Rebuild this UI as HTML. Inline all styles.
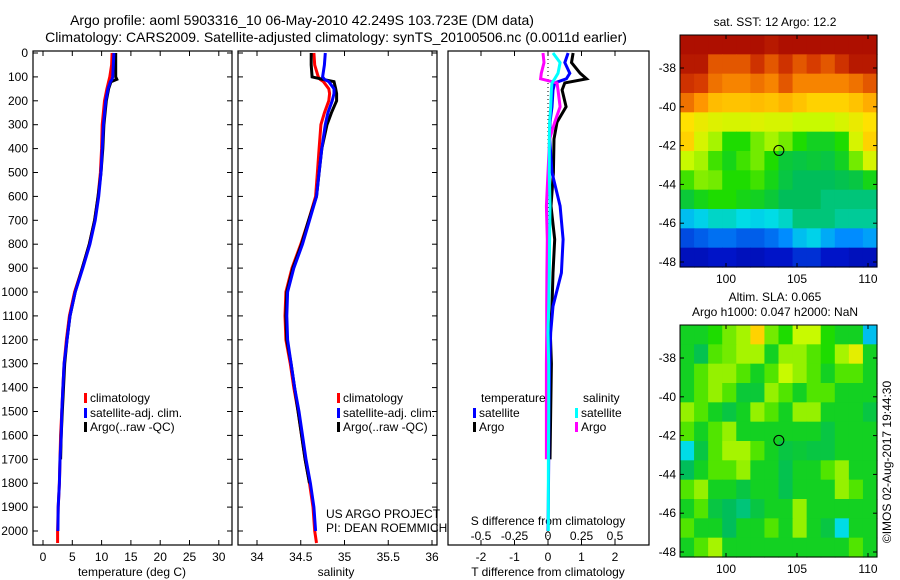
<!DOCTYPE html>
<html><head><meta charset="utf-8"><style>
body{margin:0;background:#fff}
svg{display:block;font-family:"Liberation Sans",sans-serif}
text{font-size:12px;fill:#000}
</style></head><body>
<svg id="s" width="900" height="580" viewBox="0 0 900 580">
<text x="302" y="25" text-anchor="middle" style="font-size:14px">Argo profile: aoml 5903316_10 06-May-2010 42.249S 103.723E (DM data)</text>
<text x="336" y="42" text-anchor="middle" style="font-size:14px">Climatology: CARS2009. Satellite-adjusted climatology: synTS_20100506.nc (0.0011d earlier)</text>
<text x="775" y="26" text-anchor="middle">sat. SST: 12 Argo: 12.2</text>
<text x="775" y="301" text-anchor="middle">Altim. SLA: 0.065</text>
<text x="775" y="316" text-anchor="middle">Argo h1000: 0.047 h2000: NaN</text>
<text transform="translate(891,462) rotate(-90)" text-anchor="middle">©IMOS 02-Aug-2017 19:44:30</text>
<text x="132" y="576" text-anchor="middle">temperature (deg C)</text>
<text x="336" y="576" text-anchor="middle">salinity</text>
<text x="548" y="576" text-anchor="middle">T difference from climatology</text>
<text x="548" y="525" text-anchor="middle">S difference from climatology</text>
<text x="326" y="518">US ARGO PROJECT</text>
<text x="326" y="532">PI: DEAN ROEMMICH</text>
</svg>
<script>
// ---------- data ----------
const depthTicks=[0,100,200,300,400,500,600,700,800,900,1000,1100,1200,1300,1400,1500,1600,1700,1800,1900,2000];
const tempTicks=[0,5,10,15,20,25,30];
const salTicks=[34,34.5,35,35.5,36];
const tdiffTicks=[-2,-1,0,1,2];
const sdiffTicks=[-0.5,-0.25,0,0.25,0.5];
const sdiffTickLabels=["-0.5","-0.25","0","0.25","0.5"];

const tempClimDepth=[0,50,100,110,120,150,200,300,400,500,600,700,800,900,1000,1100,1200,1300,1400,1500,1600,1700,1800,1900,2000,2050];
const tempClim=[11.8,11.7,11.4,11.3,11.2,10.9,10.5,10.1,10.0,9.8,9.4,8.8,7.9,6.7,5.4,4.5,4.0,3.6,3.4,3.2,3.0,2.9,2.8,2.6,2.5,2.5];
const tempSatDepth=[0,50,100,110,120,150,200,300,400,500,600,700,800,900,1000,1100,1200,1300,1400,1500,1600,1700,1800,1900,2000];
const tempSat=[12.1,12.0,11.9,11.8,11.5,11.1,10.7,10.3,10.1,9.9,9.5,8.9,8.0,6.8,5.5,4.6,4.1,3.6,3.4,3.2,3.1,2.9,2.8,2.6,2.55];
const tempArgoDepth=[0,50,100,110,120,150,200,300,400,500,600,700,800,900,1000,1100,1200,1300,1400,1500,1600,1700];
const tempArgo=[12.4,12.4,12.4,12.6,11.6,11.2,10.8,10.4,10.2,9.9,9.4,8.8,7.9,6.7,5.5,4.6,4.1,3.7,3.5,3.3,3.1,3.0];

const salClimDepth=[0,50,100,110,120,150,170,200,250,300,400,500,600,700,800,900,1000,1100,1200,1300,1400,1500,1600,1700,1800,1900,2000,2050];
const salClim=[34.65,34.66,34.70,34.72,34.76,34.82,34.83,34.82,34.77,34.73,34.71,34.69,34.67,34.59,34.50,34.40,34.33,34.32,34.33,34.38,34.42,34.47,34.51,34.55,34.60,34.64,34.66,34.68];
const salSatDepth=[0,50,100,110,120,150,170,200,250,300,400,500,600,700,800,900,1000,1100,1200,1300,1400,1500,1600,1700,1800,1900,2000];
const salSat=[34.78,34.77,34.75,34.77,34.82,34.88,34.88,34.86,34.81,34.78,34.74,34.71,34.68,34.60,34.52,34.42,34.35,34.34,34.35,34.39,34.43,34.48,34.52,34.56,34.61,34.65,34.67];
const salArgoDepth=[0,50,100,110,120,150,170,200,250,300,400,500,600,700,800,900,1000,1100,1200,1300,1400,1500,1600,1700,1800];
const salArgo=[34.62,34.62,34.63,34.75,34.88,34.90,34.91,34.91,34.85,34.80,34.74,34.71,34.68,34.59,34.51,34.41,34.34,34.33,34.34,34.39,34.43,34.47,34.51,34.55,34.60];

const diffDepth=[0,40,85,108,125,155,225,290,360,500,640,780,920,1060,1170,1300,1500,1700,1900,2000];
const tdiffArgo=[0.75,0.7,0.96,1.15,0.5,0.42,0.54,0.27,0.18,0.16,0.09,0.2,0.15,0.12,0.07,0.1,0.08,0.06];
const tdiffSat=[0.6,0.5,0.65,0.55,0.2,0.15,0.12,0.06,0.05,0.12,0.36,0.45,0.4,0.15,0.08,0.05,0.03,0.02,0.01,0.0];
const sdiffArgo=[-0.037,-0.03,-0.05,-0.055,0.067,0.075,0.09,0.05,0.012,0.0,-0.012,-0.005,-0.008,-0.01,-0.01,-0.012,-0.012,-0.012];
const sdiffSat=[0.037,0.09,0.075,0.05,0.03,0.025,0.02,0.012,0.01,0.01,0.015,0.012,0.01,0.005,0.0,0.005,0.005,0.003,0.002,0.002];

const sstGrid=[
[0.97,0.97,0.97,0.97,0.97,0.97,0.95,0.97,0.97,0.97,0.97,0.97,0.97,0.97],
[0.95,0.95,0.85,0.85,0.85,0.9,0.85,0.9,0.85,0.88,0.85,0.9,0.95,0.95],
[0.9,0.88,0.82,0.8,0.8,0.82,0.8,0.85,0.8,0.8,0.8,0.8,0.82,0.85],
[0.82,0.78,0.73,0.72,0.72,0.73,0.72,0.74,0.72,0.7,0.7,0.7,0.72,0.75],
[0.68,0.65,0.63,0.62,0.62,0.63,0.62,0.62,0.6,0.6,0.6,0.62,0.65,0.68],
[0.7,0.62,0.58,0.5,0.5,0.55,0.58,0.55,0.5,0.47,0.47,0.5,0.62,0.7],
[0.6,0.58,0.52,0.48,0.52,0.55,0.5,0.45,0.44,0.45,0.44,0.47,0.55,0.62],
[0.52,0.56,0.55,0.5,0.5,0.52,0.48,0.44,0.42,0.42,0.42,0.43,0.44,0.48],
[0.45,0.48,0.5,0.5,0.48,0.47,0.45,0.42,0.42,0.42,0.4,0.4,0.4,0.4],
[0.3,0.32,0.35,0.35,0.33,0.32,0.33,0.35,0.4,0.4,0.4,0.38,0.38,0.38],
[0.18,0.2,0.22,0.22,0.2,0.2,0.22,0.25,0.3,0.32,0.28,0.25,0.25,0.27],
[0.1,0.1,0.12,0.12,0.1,0.1,0.12,0.12,0.15,0.15,0.12,0.12,0.1,0.1]];
const slaGrid=[
[0.47,0.47,0.5,0.55,0.58,0.7,0.55,0.5,0.6,0.6,0.5,0.47,0.47,0.3],
[0.47,0.43,0.53,0.55,0.58,0.58,0.47,0.57,0.57,0.53,0.5,0.58,0.64,0.47],
[0.47,0.53,0.57,0.57,0.53,0.47,0.53,0.6,0.57,0.53,0.47,0.53,0.53,0.47],
[0.47,0.53,0.57,0.53,0.45,0.45,0.57,0.53,0.47,0.53,0.53,0.47,0.47,0.47],
[0.57,0.53,0.47,0.44,0.47,0.57,0.53,0.47,0.57,0.57,0.47,0.47,0.47,0.44],
[0.53,0.47,0.53,0.57,0.47,0.47,0.47,0.47,0.47,0.47,0.44,0.47,0.47,0.47],
[0.33,0.44,0.53,0.58,0.58,0.53,0.47,0.44,0.45,0.44,0.44,0.47,0.47,0.47],
[0.42,0.47,0.53,0.53,0.57,0.47,0.47,0.43,0.47,0.47,0.53,0.57,0.47,0.47],
[0.53,0.57,0.47,0.47,0.44,0.47,0.47,0.43,0.47,0.47,0.47,0.57,0.53,0.47],
[0.47,0.53,0.44,0.42,0.4,0.44,0.47,0.47,0.57,0.47,0.47,0.47,0.47,0.47],
[0.53,0.47,0.47,0.42,0.47,0.47,0.53,0.47,0.57,0.47,0.44,0.33,0.47,0.47],
[0.47,0.53,0.58,0.47,0.47,0.47,0.47,0.47,0.47,0.47,0.47,0.47,0.53,0.47]];
const lonTicks=[100,105,110];
const latTicks=[-38,-40,-42,-44,-46,-48];
const argoLon=103.723, argoLat=-42.249;

// ---------- helpers ----------
const NS="http://www.w3.org/2000/svg", S=document.getElementById('s');
function mk(tag,a,parent){const e=document.createElementNS(NS,tag);for(const k in a)e.setAttribute(k,a[k]);(parent||S).appendChild(e);return e;}
const yD=d=>53+d*0.239;
const PB=545;
function lin(d0,r0,d1,r1){return v=>r0+(v-d0)*(r1-r0)/(d1-d0);}
function line(depths,vals,fx,color,name,w){
  let pts=[];for(let i=0;i<depths.length&&i<vals.length;i++)pts.push(fx(vals[i]).toFixed(1)+','+yD(depths[i]).toFixed(1));
  const p=mk('polyline',{points:pts.join(' '),fill:'none',stroke:color,'stroke-width':w||3});
  
  
}
function frame(x0,x1,name){
  const r=mk('rect',{x:x0,y:51,width:x1-x0,height:PB-51,fill:'none',stroke:'#000','stroke-width':1.2});
  
  
}
function xTicks(ticks,fx,labels,y,top,name){
  ticks.forEach((t,i)=>{
    const x=fx(t);
    mk('line',{x1:x,x2:x,y1:PB,y2:PB-5,stroke:'#000'});
    if(top)mk('line',{x1:x,x2:x,y1:51,y2:56,stroke:'#000'});
    const tx=mk('text',{x:x,y:y,'text-anchor':'middle'});tx.textContent=labels?labels[i]:t;
    
    
  });
}
function yTicks(x0,x1){
  depthTicks.forEach(d=>{const y=yD(d);
    mk('line',{x1:x0,x2:x0+5,y1:y,y2:y,stroke:'#000'});
    mk('line',{x1:x1,x2:x1-5,y1:y,y2:y,stroke:'#000'});});
}
function legend(x,y,color,label,name){
  mk('rect',{x:x,y:y-9,width:3,height:10,fill:color});
  const t=mk('text',{x:x+6,y:y});t.textContent=label;
  
  
}

depthTicks.forEach(d=>{const t=mk('text',{x:28,y:yD(d)+4,'text-anchor':'end'});t.textContent=d;
  
  });

// ---------- panel 1 temperature ----------
const fT=lin(0,43,5,72.3);
frame(33,232,'temperature-panel');yTicks(33,232);
xTicks(tempTicks,fT,null,561,true,'temperature-tick-label');
line(tempClimDepth,tempClim,fT,'#f00','temp-climatology-line');
line(tempArgoDepth,tempArgo,fT,'#000','temp-argo-line');
line(tempSatDepth,tempSat,fT,'#00f','temp-satellite-line');
legend(84,402,'#f00','climatology','legend-climatology');
legend(84,417,'#00f','satellite-adj. clim.','legend-satellite');
legend(84,431,'#000','Argo(..raw -QC)','legend-argo');

// ---------- panel 2 salinity ----------
const fS=lin(34,257,35,344.5);
frame(238,437,'salinity-panel');yTicks(238,437);
xTicks(salTicks,fS,null,561,true,'salinity-tick-label');
line(salClimDepth,salClim,fS,'#f00','sal-climatology-line');
line(salArgoDepth,salArgo,fS,'#000','sal-argo-line');
line(salSatDepth,salSat,fS,'#00f','sal-satellite-line');
legend(337,402,'#f00','climatology','legend-climatology-2');
legend(337,417,'#00f','satellite-adj. clim.','legend-satellite-2');
legend(337,431,'#000','Argo(..raw -QC)','legend-argo-2');

// ---------- panel 3 differences ----------
const fD=lin(0,548,1,581.5), fSD=v=>fD(v*4);
frame(448,649,'difference-panel');
mk('line',{x1:548,x2:548,y1:51,y2:PB,stroke:'#000','stroke-dasharray':'1,3'});
xTicks(tdiffTicks,fD,null,561,true,'t-diff-tick-label');
sdiffTicks.forEach((t,i)=>{const tx=mk('text',{x:fSD(t),y:540,'text-anchor':'middle'});tx.textContent=sdiffTickLabels[i];
  
  });
line(diffDepth,tdiffArgo,fD,'#000','t-diff-argo-line');
line(diffDepth,tdiffSat,fD,'#00f','t-diff-satellite-line');
line(diffDepth,sdiffArgo,fSD,'#f0f','s-diff-argo-line');
line(diffDepth,sdiffSat,fSD,'#0ff','s-diff-satellite-line');
{const t=mk('text',{x:481,y:402});t.textContent='temperature';}
{const t=mk('text',{x:583,y:402});t.textContent='salinity';}
legend(473,417,'#00f','satellite','legend-t-satellite');
legend(473,431,'#000','Argo','legend-t-argo');
legend(575,417,'#0ff','satellite','legend-s-satellite');
legend(575,431,'#f0f','Argo','legend-s-argo');

// ---------- maps ----------
const cmapStops=[[0,[0,0,130]],[0.12,[0,20,200]],[0.25,[0,140,255]],[0.33,[0,220,230]],[0.42,[0,190,90]],[0.5,[30,220,0]],[0.6,[200,250,0]],[0.68,[255,225,0]],[0.78,[255,150,0]],[0.88,[215,60,0]],[1,[160,0,0]]];
function cmap(v){
  for(let i=1;i<cmapStops.length;i++){
    if(v<=cmapStops[i][0]){const [a,ca]=cmapStops[i-1],[b,cb]=cmapStops[i],t=(v-a)/(b-a);
      return 'rgb('+ca.map((c,k)=>Math.round(c+(cb[k]-c)*t)).join(',')+')';}
  }
  return 'rgb(160,0,0)';
}
const fLon=lin(100,726,105,797), fLat=lin(-38,0,-40,38.8);
function map(grid,top,name){
  const x0=680,x1=877,y0=top,y1=top+232;
  const g=mk('g',{});
  
  
  const rows=grid.length, cols=grid[0].length, cw=(x1-x0)/cols, ch=(y1-y0)/rows;
  grid.forEach((row,i)=>row.forEach((v,j)=>{
    const r=mk('rect',{x:(x0+j*cw).toFixed(2),y:(y0+i*ch).toFixed(2),width:(cw+0.6).toFixed(2),height:(ch+0.6).toFixed(2),fill:cmap(v)},g);
    
    
  }));
  mk('rect',{x:x0,y:y0,width:x1-x0,height:y1-y0,fill:'none',stroke:'#000'});
  const latOff=top+68-35;
  lonTicks.forEach(l=>{const x=fLon(l);
    mk('line',{x1:x,x2:x,y1:y1,y2:y1-4,stroke:'#000'});mk('line',{x1:x,x2:x,y1:y0,y2:y0+4,stroke:'#000'});
    const t=mk('text',{x:x,y:y1+16,'text-anchor':'middle'});t.textContent=l;
    
    });
  latTicks.forEach(l=>{const y=latOff+fLat(l);
    mk('line',{x1:x0,x2:x0+4,y1:y,y2:y,stroke:'#000'});mk('line',{x1:x1,x2:x1-4,y1:y,y2:y,stroke:'#000'});
    const t=mk('text',{x:676,y:y+4,'text-anchor':'end'});t.textContent=l;
    
    });
  const c=mk('circle',{cx:fLon(argoLon),cy:latOff+fLat(argoLat),r:5,fill:'none',stroke:'#000'});
  
  
}
map(sstGrid,35,'sst-map');
map(slaGrid,325,'sla-map');
</script>
</body></html>
